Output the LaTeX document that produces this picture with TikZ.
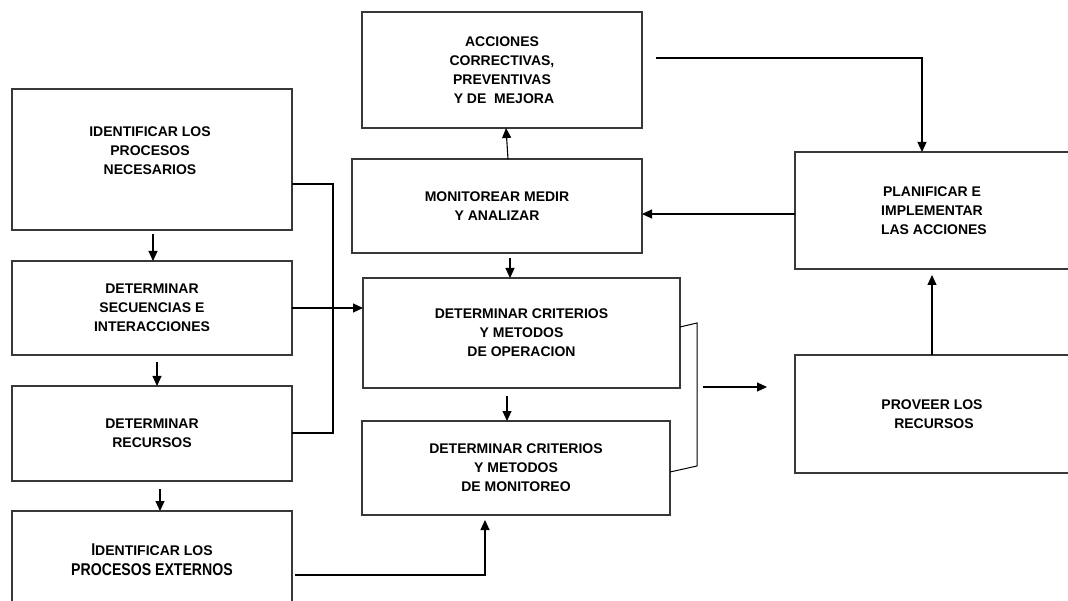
\documentclass[tikz,border=0pt]{standalone}
\usepackage{fontspec}
\setmainfont{Liberation Sans}
\newfontfamily\dnarrow{Liberation Sans}[FakeStretch=0.83]
\usetikzlibrary{arrows.meta,calc}
\tikzset{
  box/.style={draw=black!78, line width=1.3pt, rectangle, inner sep=0pt, outer sep=0pt,
    anchor=north west, align=center, font=\fontsize{14}{19}\selectfont\bfseries},
  txt/.style={inner sep=0pt, align=center, font=\fontsize{14}{19}\selectfont\bfseries},
  conn/.style={draw=black, line width=1.1pt},
  arr/.style={conn, -{Triangle[length=10pt,width=9pt]}},
}
\begin{document}
\begin{tikzpicture}[x=1pt,y=-1pt]
\useasboundingbox (0,0) rectangle (1068,601);
\fill[white] (0,0) rectangle (1068,601);
\clip (0,0) rectangle (1068,601);

% boxes
\node[box, minimum width=280pt, minimum height=141pt] (A) at (12,89) {};
\node[txt] (tA) at (150,151) {IDENTIFICAR LOS\\PROCESOS\\NECESARIOS};
\node[box, minimum width=280pt, minimum height=94pt] (B) at (12,261) {DETERMINAR\\SECUENCIAS\ E\\INTERACCIONES};
\node[box, minimum width=280pt, minimum height=95pt] (C) at (12,386) {DETERMINAR\\RECURSOS};
\node[box, minimum width=280pt, minimum height=98pt, font=\fontsize{17}{20}\selectfont\bfseries] (D) at (12,511)
  {{\dnarrow I}{\fontsize{14}{20}\selectfont DENTIFICAR LOS}\\
   {\dnarrow PROCESOS EXTERNOS}};

\node[box, minimum width=280pt, minimum height=116pt] (ACC) at (362,12) {ACCIONES\\CORRECTIVAS,\\PREVENTIVAS\\\ Y DE\ \ MEJORA};
\node[box, minimum width=290pt, minimum height=94pt] (MON) at (352,159) {MONITOREAR MEDIR\\Y ANALIZAR};
\node[box, minimum width=317pt, minimum height=110pt] (OP) at (363,278) {DETERMINAR CRITERIOS\\Y METODOS\\DE OPERACION};
\node[box, minimum width=308pt, minimum height=94pt] (MONIT) at (362,421) {DETERMINAR CRITERIOS\\Y METODOS\\DE MONITOREO};
\node[box, minimum width=274pt, minimum height=117pt] (PLAN) at (795,152) {PLANIFICAR E\\IMPLEMENTAR\\\ LAS ACCIONES};
\node[box, minimum width=274pt, minimum height=118pt] (PROV) at (795,355) {PROVEER LOS\\\ RECURSOS};

% left column arrows
\draw[arr, shorten <=4pt] ([xshift=1pt]A.south) -- ([xshift=1pt]B.north);
\draw[arr, shorten <=7pt] ([xshift=5pt]B.south) -- ([xshift=5pt]C.north);
\draw[arr, shorten <=8pt] ([xshift=8pt]C.south) -- ([xshift=8pt]D.north);

% bracket A / C
\coordinate (j1) at (333,184);
\coordinate (j2) at (333,433);
\draw[conn] (A.east |- j1) -- (j1) -- (j2) -- (C.east |- j2);

% B -> OP
\draw[arr] (B.east) -- (B.east -| OP.west);

% MON -> ACC, MON -> OP, OP -> MONIT
\draw[arr] ([xshift=11pt]MON.north) -- ([xshift=4pt]ACC.south);
\draw[arr, shorten <=5pt] ([xshift=13pt]MON.south) -- ([xshift=13pt]MON.south |- OP.north);
\draw[arr, shorten <=8pt] ([xshift=-14.5pt]OP.south) -- ([xshift=-14.5pt]OP.south |- MONIT.north);

% D -> MONIT
\coordinate (k) at (485,575);
\draw[arr, shorten >=5pt] ([xshift=3pt,yshift=-15pt]D.east) -- (k) -- (k |- MONIT.south);

% bracket OP / MONIT
\coordinate (r1) at (697,323);
\coordinate (r2) at (697,466);
\draw[conn, line width=1pt] ([yshift=6pt]OP.east) -- (r1) -- (r2) -- ([yshift=-4pt]MONIT.east);

% free arrow toward PROV
\coordinate (p1) at (703,387);
\coordinate (p2) at (767,387);
\draw[arr] (p1) -- (p2);

% PROV -> PLAN
\draw[arr, shorten >=6pt] (PROV.north) -- (PLAN.south);

% PLAN -> MON
\draw[arr] ([yshift=-3.5pt]PLAN.west) -- ([yshift=-3.5pt]PLAN.west -| MON.east);

% ACC -> PLAN
\coordinate (q) at (922,58);
\draw[arr] ([xshift=14pt,yshift=12pt]ACC.east) -- (q) -- (q |- PLAN.north);
\end{tikzpicture}
\end{document}
